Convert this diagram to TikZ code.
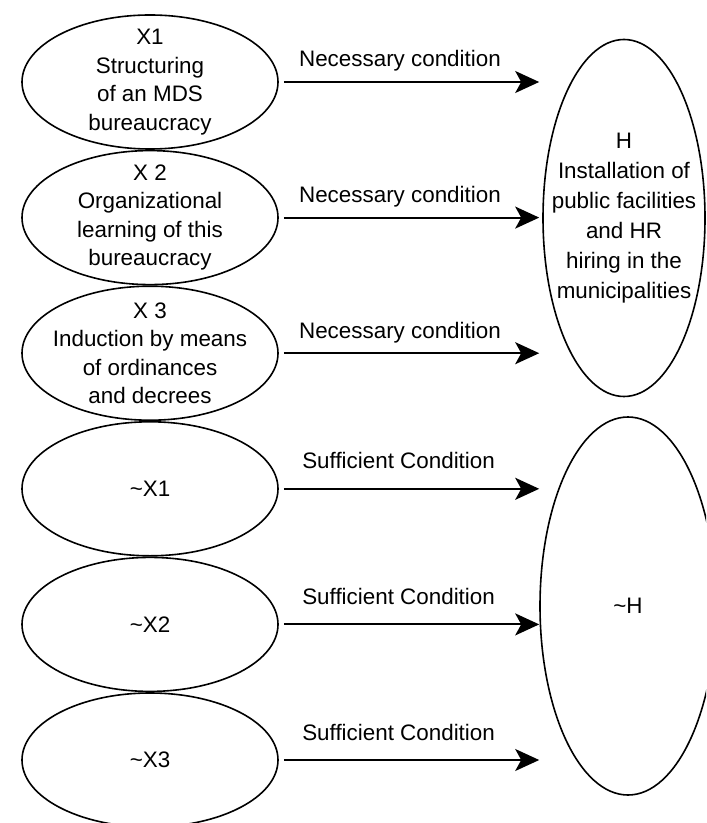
\documentclass[tikz,border=0pt]{standalone}
\usepackage{fontspec}
\setmainfont{Liberation Sans}
\usetikzlibrary{arrows.meta,positioning,shapes.geometric}

\begin{document}
\begin{tikzpicture}[x=0.5pt, y=-0.5pt, node distance=0pt, >={Stealth[length=12pt, width=11pt, inset=3pt]}, font=\fontsize{11.2}{14.3}\selectfont]
  \tikzstyle{cause}=[draw, ellipse, line width=0.8pt, minimum width=128pt, minimum height=67pt, inner sep=0pt]
  \tikzstyle{effect}=[draw, ellipse, line width=0.8pt, inner sep=0pt]
  \tikzstyle{txt}=[align=center, inner sep=0pt]
  \tikzstyle{link}=[->, line width=1pt, shorten <=2.5pt, shorten >=1.5pt]
  \tikzstyle{lbl}=[anchor=base, pos=0.46]

  \clip (0,0) rectangle (706,823);

  % ------- nodes -------
  \node[cause] (x1) at (150,82) {};
  \node[cause, below=of x1] (x2) {};
  \node[cause, below=of x2] (x3) {};
  \node[cause, below=of x3] (nx1) {};
  \node[cause, below=of nx1] (nx2) {};
  \node[cause, below=of nx2] (nx3) {};

  \node[effect, minimum width=81pt, minimum height=178.5pt] (h) at (624,218) {};
  \node[effect, minimum width=88pt, minimum height=189pt] (nh) at (628,606) {};

  % texts
  \node[txt] (tx1) at (x1) {X1\\Structuring\\of an MDS\\bureaucracy};
  \node[txt] (tx2) at (x2) {X 2\\Organizational\\learning of this\\bureaucracy};
  \node[txt] (tx3) at (x3) {X 3\\Induction by means\\of ordinances\\and decrees};
  \node[txt] (tnx1) at (nx1) {\textasciitilde X1};
  \node[txt] (tnx2) at (nx2) {\textasciitilde X2};
  \node[txt] (tnx3) at (nx3) {\textasciitilde X3};
  \node[txt, font=\fontsize{11.2}{15}\selectfont] (th) at (h) {H\\Installation of\\public facilities\\and HR\\hiring in the\\municipalities};
  \node[txt] (tnh) at (nh) {\textasciitilde H};

  % ------- arrows -------
  \foreach \s in {x1,x2,x3}
    \draw[link] (\s.east) -- (\s.east -| h.west) node[lbl, yshift=7.5pt] (l\s) {Necessary condition};
  \foreach \s in {nx1,nx2,nx3}
    \draw[link, shorten >=0pt] (\s.east) -- (\s.east -| nh.west) node[lbl, yshift=10pt] (l\s) {Sufficient Condition};
\end{tikzpicture}
\end{document}
